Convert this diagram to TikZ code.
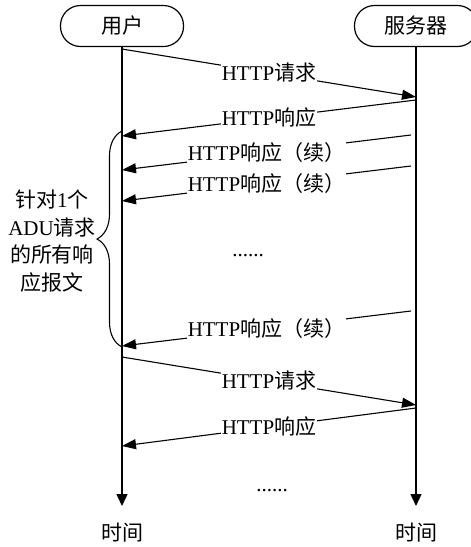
\documentclass[tikz,border=0pt]{standalone}
\usepackage{fontspec}
\setmainfont{Liberation Serif}
\newfontfamily\cjk{Noto Sans CJK SC}
\usetikzlibrary{arrows.meta,decorations.pathreplacing}
\newcommand{\zh}[1]{{\cjk #1}}
\begin{document}
\begin{tikzpicture}[x=1pt,y=-1pt,
  font=\fontsize{21}{25}\selectfont,
  party/.style={draw, line width=1.2pt, rounded corners=20pt, minimum width=123pt, minimum height=41pt, inner sep=0pt},
  life/.style={line width=1.4pt, -{Triangle[length=12pt,width=11pt]}},
  msg/.style={line width=1.1pt, -{Triangle[length=14pt,width=10pt]}},
  lbl/.style={fill=white, inner sep=1pt, midway},
  txt/.style={inner sep=0pt},
  bracestyle/.style={line width=1.1pt, decorate, decoration={brace, amplitude=25pt}}]
\path[use as bounding box, clip] (0,0) rectangle (471,547);
\node[party] (user) at (122,26) {\zh{用户}};
\node[party] (server) at (416,26) {\zh{服务器}};
\coordinate (uend) at (122,506);
\coordinate (send) at (416,506);
\draw[life] (user.south) -- (uend);
\draw[life] (server.south) -- (send);
% message end points
\coordinate (u1) at (122,49);  \coordinate (s1) at (416,97);
\coordinate (s2) at (416,100); \coordinate (u2) at (122,136);
\coordinate (s3) at (411,135); \coordinate (u3) at (122,170);
\coordinate (s4) at (411,166); \coordinate (u4) at (122,201);
\coordinate (s5) at (411,311); \coordinate (u5) at (122,346);
\coordinate (u6) at (122,357); \coordinate (s6) at (416,405);
\coordinate (s7) at (416,408); \coordinate (u7) at (122,446);
\draw[msg] (u1) -- node[lbl] (m1) {HTTP\zh{请求}} (s1);
\draw[msg] (s2) -- node[lbl] (m2) {HTTP\zh{响应}} (u2);
\draw[msg] (s3) -- node[lbl] (m3) {HTTP\zh{响应（续）}} (u3);
\draw[msg] (s4) -- node[lbl] (m4) {HTTP\zh{响应（续）}} (u4);
\draw[msg] (s5) -- node[lbl] (m5) {HTTP\zh{响应（续）}} (u5);
\draw[msg] (u6) -- node[lbl] (m6) {HTTP\zh{请求}} (s6);
\draw[msg] (s7) -- node[lbl] (m7) {HTTP\zh{响应}} (u7);
\node[txt] (d1) at (248,256) {......};
\node[txt] (d2) at (272,491) {......};
% brace
\coordinate (bb) at (122,347);
\coordinate (bt) at (122,131);
\draw[bracestyle] (bb) -- (bt);
\node[txt, align=center, font=\fontsize{21}{27.5}\selectfont] (note) at (52,241)
  {\zh{针对}1\zh{个}\\ADU\zh{请求}\\\zh{的所有响}\\\zh{应报文}};
\node[txt] (t1) at (122,533) {\zh{时间}};
\node[txt] (t2) at (416,533) {\zh{时间}};
\end{tikzpicture}
\end{document}
